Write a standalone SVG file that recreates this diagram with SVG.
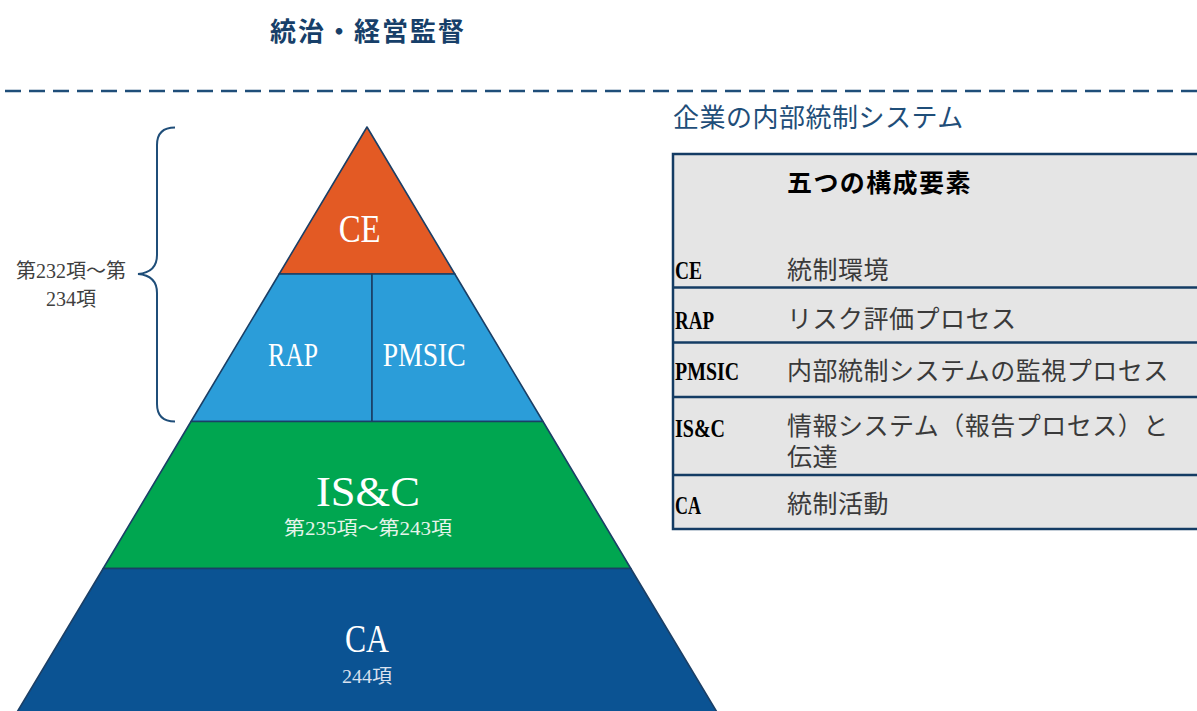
<svg xmlns="http://www.w3.org/2000/svg" width="1197" height="711" viewBox="0 0 1197 711">
<defs>
<style>
.seg{stroke:#1B3F66;stroke-width:1.6;stroke-linejoin:round}
.lbl{font-family:"Liberation Serif","Noto Sans CJK JP",serif;fill:#ffffff}
.sub{font-family:"Liberation Serif","Noto Sans CJK JP",serif}
.code{font-family:"Liberation Serif","Noto Sans CJK JP",serif;font-weight:bold;font-size:26px;fill:#000}
.desc{font-family:"Noto Sans CJK JP","Liberation Serif",sans-serif;font-size:25px;letter-spacing:0.5px;fill:#3a3a3a}
.row{stroke:#143C64;stroke-width:2.5}
</style>
</defs>
<rect width="1197" height="711" fill="#ffffff"/>

<g id="title">
<text x="270" y="41" font-family="'Noto Sans CJK JP',sans-serif" font-weight="bold" font-size="26" letter-spacing="2" fill="#173F69">統治・経営監督</text>
</g>

<g id="divider">
<line x1="5" y1="91" x2="1197" y2="91" stroke="#1F4E79" stroke-width="2.5" stroke-dasharray="16 8"/>
</g>

<g id="brace">
<path d="M175,127.5 C163,127.5 157,133 157,145 L157,255 C157,267 150,273 138,274 C150,275 157,281 157,293 L157,404 C157,416 163,421.5 175,421.5" fill="none" stroke="#1F4E79" stroke-width="2"/>
<text class="sub" x="71" y="278" font-size="20" fill="#404040" text-anchor="middle">第232項～第</text>
<text class="sub" x="71" y="306" font-size="20" fill="#404040" text-anchor="middle">234項</text>
</g>

<g id="node-CE">
<polygon class="seg" points="367,127 279.2,274 454.8,274" fill="#E35A24"/>
<text class="lbl" x="338.7" y="242" font-size="39" textLength="42" lengthAdjust="spacingAndGlyphs">CE</text>
</g>
<g id="node-RAP">
<polygon class="seg" points="279.2,274 372,274 372,421.5 191,421.5" fill="#2B9DD9"/>
<text class="lbl" x="268" y="366" font-size="34" textLength="50" lengthAdjust="spacingAndGlyphs">RAP</text>
</g>
<g id="node-PMSIC">
<polygon class="seg" points="372,274 454.8,274 543,421.5 372,421.5" fill="#2B9DD9"/>
<text class="lbl" x="382.7" y="366" font-size="34" textLength="83" lengthAdjust="spacingAndGlyphs">PMSIC</text>
</g>
<g id="node-ISC">
<polygon class="seg" points="191,421.5 543,421.5 630.8,568.5 103.2,568.5" fill="#00A650"/>
<text class="lbl" x="316" y="506" font-size="42" textLength="104" lengthAdjust="spacingAndGlyphs">IS&amp;C</text>
<text class="sub" x="284" y="535" font-size="19" fill="#E6F4EA" textLength="168" lengthAdjust="spacingAndGlyphs">第235項～第243項</text>
</g>
<g id="node-CA">
<polygon class="seg" points="103.2,568.5 630.8,568.5 717.5,713 16.5,713" fill="#0B5393"/>
<text class="lbl" x="345" y="652" font-size="39" textLength="44" lengthAdjust="spacingAndGlyphs">CA</text>
<text class="sub" x="342" y="683" font-size="19" fill="#D9E1EE" textLength="50" lengthAdjust="spacingAndGlyphs">244項</text>
</g>

<g id="connectors"></g>

<g id="system-title">
<text x="673" y="127" font-family="'Noto Sans CJK JP',sans-serif" font-size="26" letter-spacing="0.5" fill="#1F4E79">企業の内部統制システム</text>
</g>

<g id="table">
<rect x="673" y="154" width="540" height="375" fill="#E5E5E5" stroke="#143C64" stroke-width="2.5"/>
<line class="row" x1="673" y1="287.5" x2="1197" y2="287.5"/>
<line class="row" x1="673" y1="342.5" x2="1197" y2="342.5"/>
<line class="row" x1="673" y1="397" x2="1197" y2="397"/>
<line class="row" x1="673" y1="475" x2="1197" y2="475"/>
<text x="787" y="192" font-family="'Noto Sans CJK JP',sans-serif" font-weight="bold" font-size="25" letter-spacing="1.4" fill="#000">五つの構成要素</text>
<text class="code" x="675" y="279" textLength="27" lengthAdjust="spacingAndGlyphs">CE</text>
<text class="desc" x="787" y="279">統制環境</text>
<text class="code" x="675" y="329" textLength="39" lengthAdjust="spacingAndGlyphs">RAP</text>
<text class="desc" x="787" y="328">リスク評価プロセス</text>
<text class="code" x="675" y="380" textLength="64" lengthAdjust="spacingAndGlyphs">PMSIC</text>
<text class="desc" x="787" y="380">内部統制システムの監視プロセス</text>
<text class="code" x="675" y="437" textLength="50" lengthAdjust="spacingAndGlyphs">IS&amp;C</text>
<text class="desc" x="787" y="435">情報システム（報告プロセス）と<tspan x="787" dy="31">伝達</tspan></text>
<text class="code" x="675" y="514" textLength="26" lengthAdjust="spacingAndGlyphs">CA</text>
<text class="desc" x="787" y="513">統制活動</text>
</g>
</svg>
